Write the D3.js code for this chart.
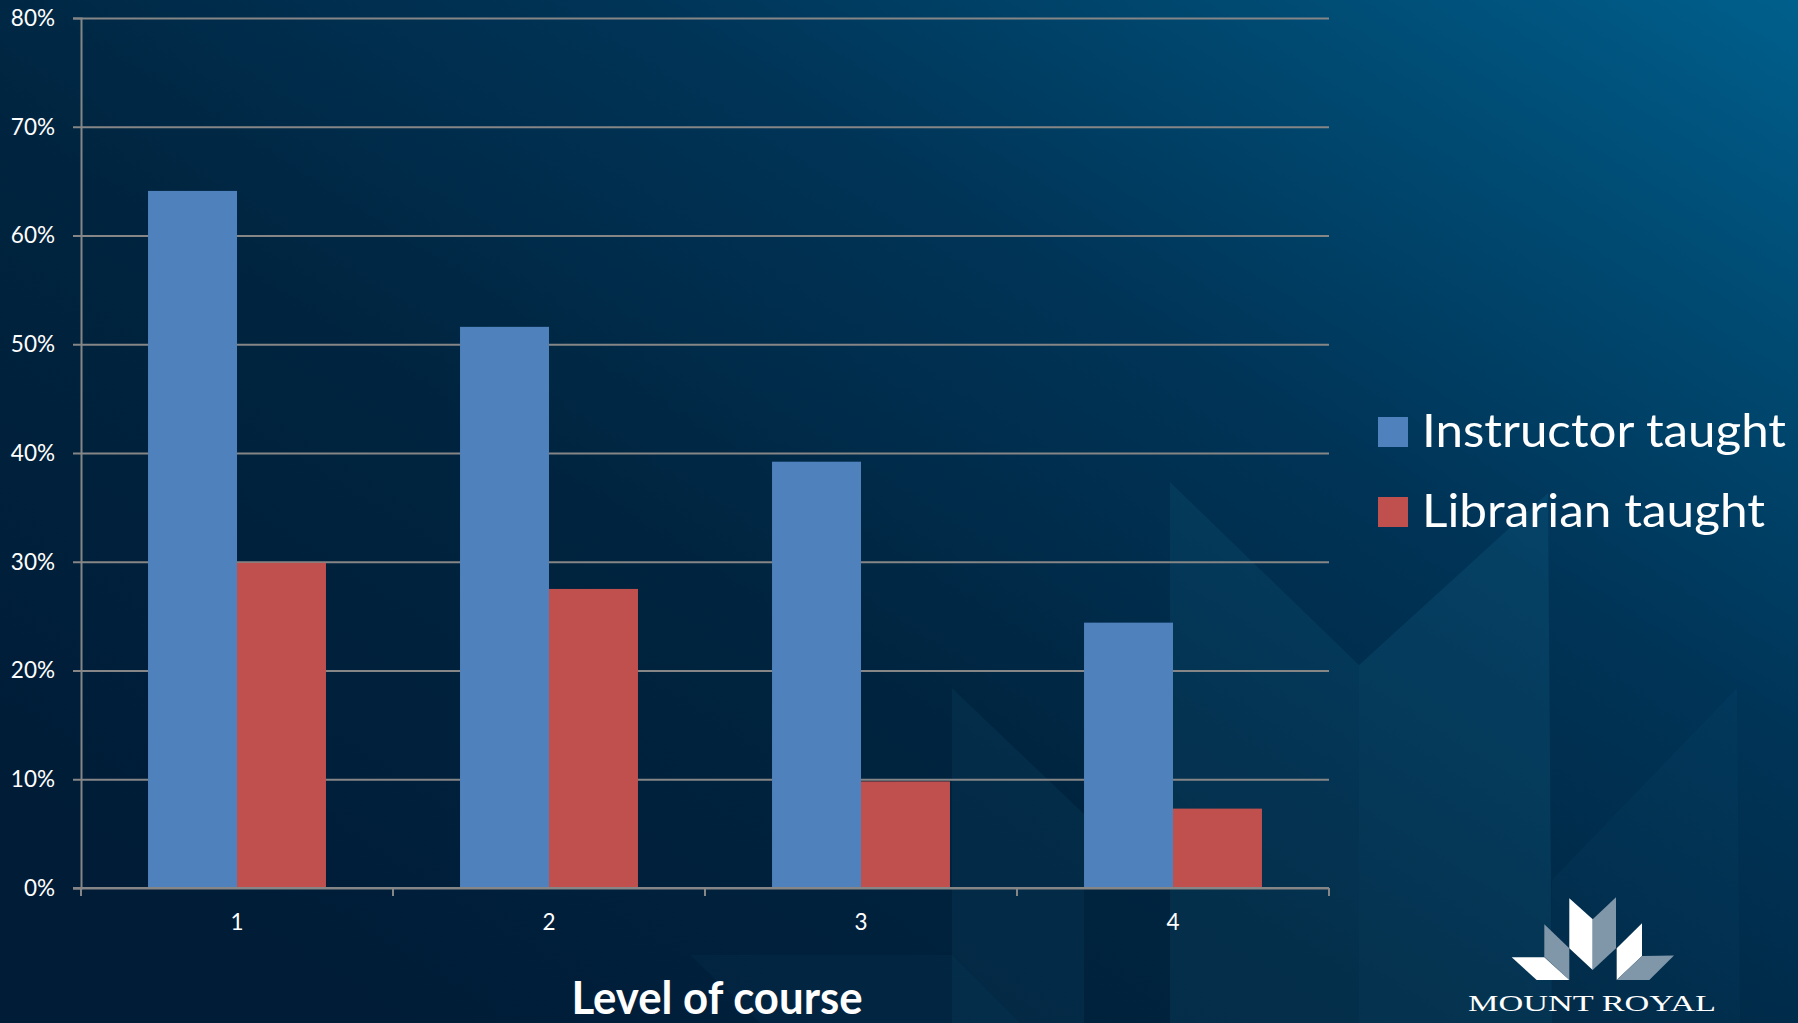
<!DOCTYPE html>
<html>
<head>
<meta charset="utf-8">
<script src="https://cdn.jsdelivr.net/npm/d3@7"></script>
<style>
  html, body { margin: 0; padding: 0; background: #001e3a; overflow: hidden; }
  svg { display: block; }
</style>
</head>
<body>
<svg id="chart" width="1798" height="1023"></svg>
<script>
// ---- data ----
const categories = ["1", "2", "3", "4"];
const seriesNames = ["Instructor taught", "Librarian taught"];
const instructorTaught = [0.641, 0.516, 0.392, 0.244];
const librarianTaught = [0.299, 0.275, 0.098, 0.073];
const yTickValues = [0, 0.1, 0.2, 0.3, 0.4, 0.5, 0.6, 0.7, 0.8];
const xAxisTitle = "Level of course";
const logoText = "MOUNT ROYAL";

const colors = ["#4f81bd", "#c0504d"];
const W = 1798, H = 1023;
const svg = d3.select("#chart");

// ---- background ----
const defs = svg.append("defs");
const bg = defs.append("linearGradient").attr("id", "bg")
  .attr("x1", "0.05").attr("y1", "0.85").attr("x2", "1").attr("y2", "0");
[["0", "#001c37"], ["0.35", "#00243f"], ["0.62", "#003457"], ["0.82", "#004a72"], ["1", "#005f8c"]]
  .forEach(s => bg.append("stop").attr("offset", s[0]).attr("stop-color", s[1]));
svg.append("rect").attr("width", W).attr("height", H).attr("fill", "url(#bg)");

// faint watermark shapes
const wm = svg.append("g").attr("fill", "#2a8fb8");
const wmShapes = [
  {pts: [[1170,482],[1359,665],[1359,1023],[1170,1023]], o: 0.10},
  {pts: [[1359,665],[1548,493],[1552,1023],[1359,1023]], o: 0.13},
  {pts: [[952,688],[1084,814],[1084,1023],[952,1023]], o: 0.08},
  {pts: [[1552,880],[1737,688],[1740,1023],[1552,1023]], o: 0.05},
  {pts: [[690,955],[952,955],[1020,1023],[760,1023]], o: 0.05}
];
wmShapes.forEach(s => wm.append("polygon")
  .attr("points", s.pts.map(p => p.join(",")).join(" "))
  .attr("fill-opacity", s.o));

// ---- scales ----
const plot = {left: 81, right: 1329, top: 18, bottom: 888};
const x = d3.scaleBand().domain(categories).range([plot.left, plot.right]).padding(0);
const x1 = d3.scaleBand().domain(seriesNames)
  .range([x.bandwidth() * 0.2148, x.bandwidth() * 0.7852]).padding(0);
const y = d3.scaleLinear().domain([0, 0.8]).range([plot.bottom, plot.top]);

const gridColor = "#868686";
const font = "Lato, 'Open Sans', sans-serif";

// gridlines (via axis)
const yAxis = d3.axisLeft(y).tickValues(yTickValues)
  .tickSize(-(plot.right - plot.left)).tickFormat("");
const gGrid = svg.append("g").attr("transform", `translate(${plot.left},0)`).call(yAxis);
gGrid.select(".domain").remove();
gGrid.selectAll(".tick line").attr("stroke", gridColor).attr("stroke-width", 2);
// little tick stubs to the left
const yStub = d3.axisLeft(y).tickValues(yTickValues).tickSize(8).tickFormat(d3.format(".0%")).tickPadding(18);
const gY = svg.append("g").attr("transform", `translate(${plot.left},0)`).call(yStub);
gY.select(".domain").attr("stroke", gridColor).attr("stroke-width", 2);
gY.selectAll(".tick line").attr("stroke", gridColor).attr("stroke-width", 2);
gY.selectAll(".tick text").attr("fill", "#ffffff").attr("font-family", font)
  .attr("font-size", 22.5).attr("dy", "0.33em");

// ---- bars ----
const data = categories.map((c, i) => ({cat: c, vals: [instructorTaught[i], librarianTaught[i]]}));
const groups = svg.append("g").selectAll("g").data(data).join("g")
  .attr("transform", d => `translate(${x(d.cat)},0)`);
groups.selectAll("rect").data(d => d.vals.map((v, j) => ({name: seriesNames[j], v, j})))
  .join("rect")
  .attr("x", d => x1(d.name))
  .attr("width", x1.bandwidth())
  .attr("y", d => y(d.v))
  .attr("height", d => y(0) - y(d.v))
  .attr("fill", d => colors[d.j]);

// ---- x axis ----
const boundaries = categories.map(c => x(c)).concat([plot.right]);
const gX = svg.append("g");
gX.append("line").attr("x1", plot.left - 8).attr("x2", plot.right)
  .attr("y1", y(0)).attr("y2", y(0)).attr("stroke", gridColor).attr("stroke-width", 2);
gX.selectAll("line.tk").data(boundaries).join("line").attr("class", "tk")
  .attr("x1", d => d).attr("x2", d => d).attr("y1", y(0)).attr("y2", y(0) + 8)
  .attr("stroke", gridColor).attr("stroke-width", 2);
gX.selectAll("text").data(categories).join("text")
  .attr("x", d => x(d) + x.bandwidth() / 2).attr("y", 930)
  .attr("text-anchor", "middle").attr("fill", "#ffffff")
  .attr("font-family", font).attr("font-size", 22.5).text(d => d);

// axis title
svg.append("text").attr("x", 717).attr("y", 1014).attr("text-anchor", "middle")
  .attr("fill", "#ffffff").attr("font-family", font).attr("font-weight", "bold")
  .attr("font-size", 45).attr("textLength", 291).attr("lengthAdjust", "spacingAndGlyphs")
  .text(xAxisTitle);

// ---- legend ----
const legend = svg.append("g").attr("transform", "translate(1378,417)");
const legendWidths = [364, 343];
seriesNames.forEach((name, i) => {
  const g = legend.append("g").attr("transform", `translate(0,${i * 80})`);
  g.append("rect").attr("width", 30).attr("height", 30).attr("fill", colors[i]);
  g.append("text").attr("x", 44).attr("y", 30).attr("fill", "#ffffff")
    .attr("font-family", font).attr("font-size", 47)
    .attr("textLength", legendWidths[i]).attr("lengthAdjust", "spacingAndGlyphs")
    .text(name);
});

// ---- logo ----
const logo = svg.append("g");
const white = "#ffffff", grey = "#8096a9";
const logoPieces = [
  {pts: [[1569.3,898.3],[1592.7,919.3],[1592.7,970],[1569.3,948.3]], c: white},
  {pts: [[1592.7,919.3],[1616,897.3],[1616,948.3],[1592.7,970]], c: grey},
  {pts: [[1544.3,924.3],[1569.3,948.3],[1569.3,980],[1544.3,956.7]], c: grey},
  {pts: [[1511.7,957.3],[1544.3,957.3],[1569.3,980],[1536.7,980]], c: white},
  {pts: [[1642,923.3],[1642,956],[1616.7,980],[1616.7,948.3]], c: white},
  {pts: [[1642,956],[1674,955.5],[1649.3,980],[1616.7,980]], c: grey}
];
logoPieces.forEach(p => logo.append("polygon")
  .attr("points", p.pts.map(q => q.join(",")).join(" ")).attr("fill", p.c));
logo.append("text").attr("x", 1592).attr("y", 1011).attr("text-anchor", "middle")
  .attr("fill", "#ffffff").attr("font-family", "'Liberation Serif', 'DejaVu Serif', serif")
  .attr("font-size", 24).attr("textLength", 248).attr("lengthAdjust", "spacingAndGlyphs")
  .text(logoText);
</script>
</body>
</html>
